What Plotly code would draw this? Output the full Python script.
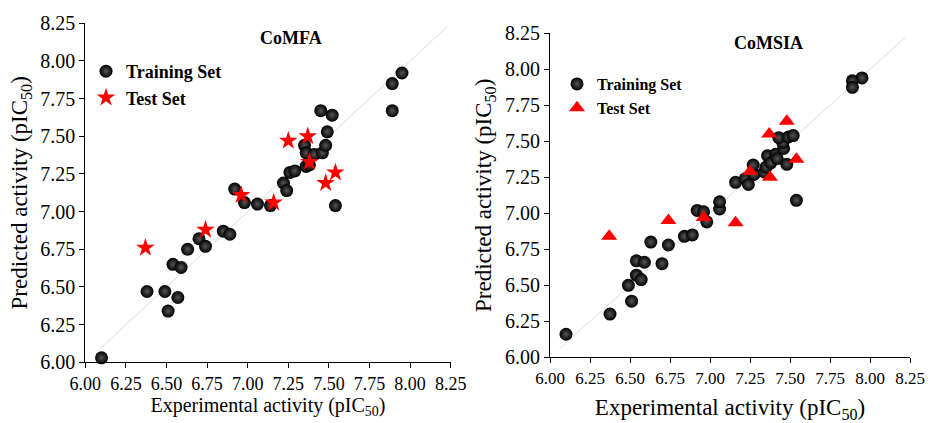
import plotly.graph_objects as go

# ---------------- data ----------------
tick_vals = [6.00, 6.25, 6.50, 6.75, 7.00, 7.25, 7.50, 7.75, 8.00, 8.25]
tick_text = ["6.00", "6.25", "6.50", "6.75", "7.00", "7.25", "7.50", "7.75", "8.00", "8.25"]

# CoMFA
comfa_train_exp = [6.10, 6.38, 6.49, 6.51, 6.57, 6.54, 6.59, 6.63, 6.70, 6.74, 6.85, 6.89,
                   6.92, 6.98, 7.06, 7.14, 7.22, 7.24, 7.26, 7.29, 7.36, 7.38, 7.35, 7.36,
                   7.41, 7.46, 7.48, 7.49, 7.45, 7.52, 7.54, 7.89, 7.89, 7.95]
comfa_train_pred = [6.03, 6.47, 6.47, 6.34, 6.43, 6.65, 6.63, 6.75, 6.82, 6.77, 6.87, 6.85,
                    7.15, 7.06, 7.05, 7.04, 7.19, 7.14, 7.26, 7.27, 7.30, 7.31, 7.44, 7.39,
                    7.38, 7.39, 7.44, 7.53, 7.67, 7.64, 7.04, 7.67, 7.85, 7.92]
comfa_test_exp = [6.37, 6.74, 6.96, 7.16, 7.25, 7.37, 7.38, 7.54, 7.48]
comfa_test_pred = [6.76, 6.88, 7.11, 7.06, 7.47, 7.50, 7.33, 7.26, 7.19]

# CoMSIA
comsia_train_exp = [6.10, 6.375, 6.51, 6.49, 6.54, 6.57, 6.54, 6.59, 6.63, 6.70, 6.74, 6.84,
                    6.89, 6.92, 6.96, 6.98, 7.06, 7.06, 7.95, 7.89, 7.89, 7.54, 7.16, 7.22,
                    7.24, 7.275, 7.27, 7.34, 7.35, 7.36, 7.38, 7.41, 7.42, 7.46, 7.48, 7.455,
                    7.43, 7.49, 7.52]
comsia_train_pred = [6.16, 6.30, 6.39, 6.50, 6.57, 6.54, 6.67, 6.66, 6.80, 6.65, 6.78, 6.84,
                     6.85, 7.02, 7.01, 6.94, 7.03, 7.08, 7.94, 7.92, 7.875, 7.09, 7.215, 7.24,
                     7.20, 7.27, 7.335, 7.285, 7.32, 7.40, 7.35, 7.41, 7.38, 7.45, 7.34, 7.49,
                     7.525, 7.53, 7.54]
comsia_test_exp = [6.37, 6.74, 6.96, 7.16, 7.25, 7.375, 7.54, 7.37, 7.48]
comsia_test_pred = [6.84, 6.95, 6.97, 6.935, 7.29, 7.25, 7.375, 7.55, 7.64]

comfa_diag = [6.07, 8.23]
comsia_diag = [6.06, 8.22]

# ---------------- figure ----------------
W, H = 928, 423
FONT = "Liberation Serif"

sphere = dict(color="black", size=13, line=dict(width=0),
              gradient=dict(type="radial", color="#555555"))

fig = go.Figure()

fig.add_trace(go.Scatter(x=comfa_diag, y=comfa_diag, mode="lines",
                         line=dict(color="#dcdcdc", width=1), showlegend=False,
                         hoverinfo="skip", xaxis="x", yaxis="y"))
fig.add_trace(go.Scatter(x=comfa_train_exp, y=comfa_train_pred, mode="markers",
                         name="<b>Training Set</b>", marker=sphere, cliponaxis=False,
                         xaxis="x", yaxis="y", legend="legend"))
fig.add_trace(go.Scatter(x=comfa_test_exp, y=comfa_test_pred, mode="markers",
                         name="<b>Test Set</b>",
                         marker=dict(symbol="star", color="#ff0000", size=14, line=dict(width=0)),
                         cliponaxis=False, xaxis="x", yaxis="y", legend="legend"))

fig.add_trace(go.Scatter(x=comsia_diag, y=comsia_diag, mode="lines",
                         line=dict(color="#dcdcdc", width=1), showlegend=False,
                         hoverinfo="skip", xaxis="x2", yaxis="y2"))
fig.add_trace(go.Scatter(x=comsia_train_exp, y=comsia_train_pred, mode="markers",
                         name="<b>Training Set</b>", marker=sphere, cliponaxis=False,
                         xaxis="x2", yaxis="y2", legend="legend2"))
fig.add_trace(go.Scatter(x=comsia_test_exp, y=comsia_test_pred, mode="markers",
                         name="<b>Test Set</b>",
                         marker=dict(symbol="triangle-up", color="#ff0000", size=14, line=dict(width=0)),
                         cliponaxis=False, xaxis="x2", yaxis="y2", legend="legend2"))

def axis(domain, anchor, size, title, title_size, standoff):
    return dict(domain=domain, anchor=anchor, range=[6, 8.25], tickmode="array",
                tickvals=tick_vals, ticktext=tick_text, showgrid=False, zeroline=False,
                showline=True, linecolor="black", linewidth=1, ticks="outside",
                ticklen=5, tickcolor="black", tickwidth=1, automargin=False,
                tickfont=dict(family=FONT, size=size, color="black"),
                title=dict(text=title, font=dict(family=FONT, size=title_size, color="black"),
                           standoff=standoff))

x_title = "Experimental activity (pIC<sub>50</sub>)"
y_title = "Predicted activity (pIC<sub>50</sub>)"

fig.update_layout(
    width=W, height=H, margin=dict(l=0, r=0, t=0, b=0),
    paper_bgcolor="white", plot_bgcolor="white",
    xaxis=axis([85.3 / W, 450.7 / W], "y", 18, x_title, 20, 4),
    yaxis=axis([(H - 362.3) / H, (H - 23.3) / H], "x", 20, y_title, 23, 6),
    xaxis2=axis([550 / W, 910 / W], "y2", 17, x_title, 23, 22),
    yaxis2=axis([(H - 357.3) / H, (H - 33.3) / H], "x2", 20, y_title, 23, 6),
    legend=dict(x=(106 - 20) / W, y=(H - 53) / H, xanchor="left", yanchor="top",
                bgcolor="rgba(0,0,0,0)", font=dict(family=FONT, size=18, color="black"),
                tracegroupgap=0),
    legend2=dict(x=(577 - 20) / W, y=(H - 67) / H, xanchor="left", yanchor="top",
                 bgcolor="rgba(0,0,0,0)", font=dict(family=FONT, size=16, color="black"),
                 tracegroupgap=0),
    annotations=[
        dict(text="<b>CoMFA</b>", x=291 / W, y=(H - 38) / H, xref="paper", yref="paper",
             xanchor="center", yanchor="middle",
             showarrow=False, font=dict(family=FONT, size=18, color="black")),
        dict(text="<b>CoMSIA</b>", x=768 / W, y=(H - 43) / H, xref="paper", yref="paper",
             xanchor="center", yanchor="middle",
             showarrow=False, font=dict(family=FONT, size=18, color="black")),
    ],
)

fig.write_html("out.html", config={"displayModeBar": False},
               post_script="document.body.style.margin='0';document.body.style.padding='0';")
